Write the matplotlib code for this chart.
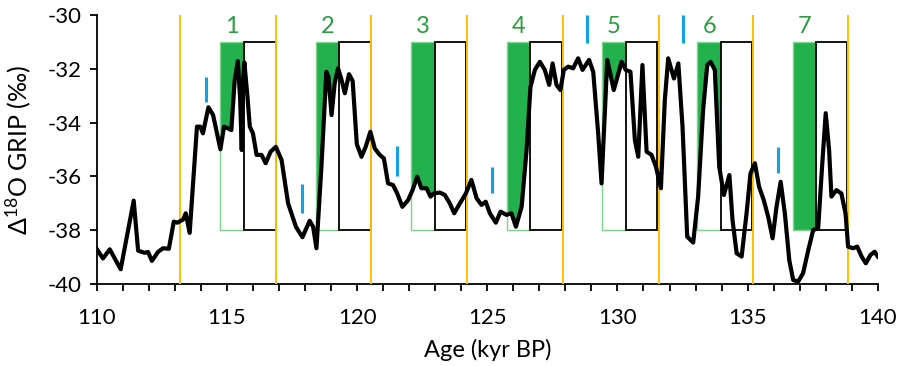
import numpy as np
import matplotlib.pyplot as plt
from matplotlib.patches import Rectangle

plt.rcParams['font.family'] = ['Lato', 'DejaVu Sans']
plt.rcParams['mathtext.default'] = 'regular'
plt.rcParams['axes.unicode_minus'] = False

# GRIP record
age = [110.0, 110.24, 110.5, 110.92, 111.42, 111.59, 111.84, 111.97, 112.12, 112.36,
       112.55, 112.77, 112.96, 113.10, 113.32, 113.42, 113.57, 113.85, 113.98, 114.08,
       114.29, 114.47, 114.75, 114.89, 115.03, 115.17, 115.30, 115.42, 115.51, 115.57,
       115.62, 115.67, 115.79, 115.88, 116.0, 116.14, 116.33, 116.49, 116.68, 116.88,
       117.10, 117.35, 117.65, 117.90, 118.18, 118.31, 118.44, 118.63, 118.82, 118.90,
       119.02, 119.14, 119.27, 119.40, 119.53, 119.69, 119.83, 119.99, 120.17, 120.33,
       120.51, 120.68, 120.87, 121.03, 121.19, 121.38, 121.54, 121.74, 121.96, 122.13,
       122.31, 122.47, 122.67, 122.82, 122.96, 123.18, 123.37, 123.56, 123.73, 123.95,
       124.18, 124.39, 124.59, 124.78, 124.94, 125.10, 125.33, 125.51, 125.74, 125.93,
       126.10, 126.32, 126.51, 126.66, 126.83, 127.02, 127.21, 127.38, 127.51, 127.66,
       127.81, 127.94, 128.11, 128.30, 128.49, 128.66, 128.91, 129.07, 129.26, 129.39,
       129.61, 129.86, 130.16, 130.32, 130.50, 130.67, 130.80, 130.96, 131.12, 131.31,
       131.48, 131.67, 131.82, 131.95, 132.17, 132.34, 132.50, 132.68, 132.91, 133.10,
       133.29, 133.45, 133.58, 133.74, 133.91, 134.09, 134.30, 134.42, 134.58, 134.77,
       134.96, 135.11, 135.28, 135.44, 135.62, 135.79, 135.96, 136.11, 136.27, 136.43,
       136.60, 136.75, 136.94, 137.13, 137.33, 137.52, 137.71, 137.86, 138.0, 138.13,
       138.22, 138.41, 138.60, 138.76, 138.86, 139.05, 139.21, 139.38, 139.54, 139.72,
       139.88, 140.0]
d18o = [-38.70, -39.05, -38.71, -39.45, -36.90, -38.76, -38.84, -38.81, -39.14, -38.80,
        -38.67, -38.69, -37.68, -37.72, -37.60, -37.37, -38.10, -34.15, -34.15, -34.40,
        -33.43, -33.72, -34.99, -34.15, -34.21, -34.28, -32.42, -31.71, -33.16, -35.02,
        -32.42, -31.76, -33.04, -34.15, -34.40, -35.20, -35.20, -35.51, -35.08, -34.90,
        -35.39, -37.00, -37.87, -38.26, -37.65, -37.87, -38.67, -35.64, -32.11, -32.29,
        -33.72, -32.54, -31.98, -32.40, -32.91, -32.20, -32.45, -34.80, -35.27, -34.90,
        -34.34, -34.96, -35.20, -35.33, -36.26, -36.32, -36.63, -37.13, -36.88, -36.51,
        -36.01, -36.44, -36.44, -36.75, -36.63, -36.60, -36.69, -37.00, -37.37, -37.00,
        -36.63, -36.13, -36.81, -37.06, -36.94, -37.37, -37.72, -37.31, -37.43, -37.37,
        -37.87, -37.13, -35.02, -32.67, -32.04, -31.74, -32.04, -32.60, -31.80, -32.60,
        -32.79, -32.04, -31.92, -31.98, -31.61, -32.04, -31.67, -32.11, -34.40, -36.26,
        -31.67, -32.79, -31.74, -32.04, -32.11, -34.65, -35.27, -31.86, -35.08, -35.20,
        -35.64, -36.44, -33.16, -31.61, -32.36, -31.80, -34.15, -38.24, -38.46, -36.75,
        -33.53, -31.86, -31.74, -32.04, -35.64, -36.69, -35.95, -37.62, -38.86, -38.98,
        -37.37, -35.89, -35.51, -36.38, -36.88, -37.50, -38.30, -37.13, -36.20, -37.37,
        -39.11, -39.85, -39.91, -39.60, -38.74, -37.99, -37.93, -35.64, -33.65, -35.02,
        -36.75, -36.51, -36.63, -37.37, -38.61, -38.67, -38.61, -38.98, -39.23, -38.92,
        -38.80, -38.98]

orange_x = [113.2, 116.9, 120.55, 124.22, 127.9, 131.58, 135.22, 138.87]

# green part then black part of each box
box_labels = ['1', '2', '3', '4', '5', '6', '7']
green_start = [114.75, 118.43, 122.08, 125.74, 129.41, 133.07, 136.73]
green_end = [115.66, 119.32, 123.0, 126.65, 130.33, 133.99, 137.64]
black_end = [116.87, 120.54, 124.19, 127.86, 131.53, 135.18, 138.83]
box_bottom = -38.0
box_top = -31.0

blue_x = [114.2, 117.87, 121.54, 125.19, 128.85, 132.51, 136.18]
blue_y0 = [-33.25, -37.36, -35.99, -36.62, -31.03, -31.05, -35.87]
blue_y1 = [-32.29, -36.28, -34.87, -35.65, -30.0, -30.0, -34.9]

green = '#22b14c'
light_green = '#7fd48f'
orange = '#ffc000'
blue = '#15a0e4'

fig = plt.figure(figsize=(9.04, 3.66), dpi=100)
ax = fig.add_axes([0.107, 0.224, 0.864, 0.735])

x = np.array(age)
y = np.array(d18o)

for i in range(len(box_labels)):
    clip = Rectangle((green_start[i], box_bottom), green_end[i] - green_start[i],
                     box_top - box_bottom, transform=ax.transData)
    fill = ax.fill_between(x, np.clip(y, box_bottom, box_top), box_top,
                           color=green, linewidth=0, zorder=1)
    fill.set_clip_path(clip)
    ax.add_patch(Rectangle((green_start[i], box_bottom), green_end[i] - green_start[i],
                           box_top - box_bottom, facecolor='none',
                           edgecolor=light_green, linewidth=1.0, zorder=1.5))
    ax.add_patch(Rectangle((green_end[i], box_bottom), black_end[i] - green_end[i],
                           box_top - box_bottom, facecolor='white',
                           edgecolor='black', linewidth=1.3, zorder=2))
    ax.text((green_start[i] + green_end[i]) / 2, -30.42, box_labels[i],
            color='#2a9d3f', fontsize=17, ha='center', va='center', zorder=5)

for xo in orange_x:
    ax.axvline(xo, color=orange, linewidth=1.4, zorder=3)

ax.vlines(blue_x, blue_y0, blue_y1, color=blue, linewidth=2.2, zorder=4)

ax.plot(x, y, color='black', linewidth=3.0, solid_joinstyle='round', zorder=6)

ax.set_xlim(110, 140)
ax.set_ylim(-40, -30)
ax.set_xticks(np.arange(110, 141, 5))
ax.set_xticks(np.arange(110, 141, 1), minor=True)
ax.set_yticks(np.arange(-40, -29, 2))
ax.tick_params(axis='both', which='both', direction='out', length=5, width=1.3,
               labelsize=16, colors='black')
ax.tick_params(axis='x', pad=12)
ax.tick_params(axis='y', pad=6)
ax.set_xlabel('Age (kyr BP)', fontsize=17, labelpad=8)
ax.set_ylabel('Δ$^{18}$O GRIP (‰)', fontsize=18, labelpad=10)
for side in ['top', 'right']:
    ax.spines[side].set_visible(False)
for side in ['left', 'bottom']:
    ax.spines[side].set_linewidth(1.3)

fig.savefig('out.png', dpi=100)
